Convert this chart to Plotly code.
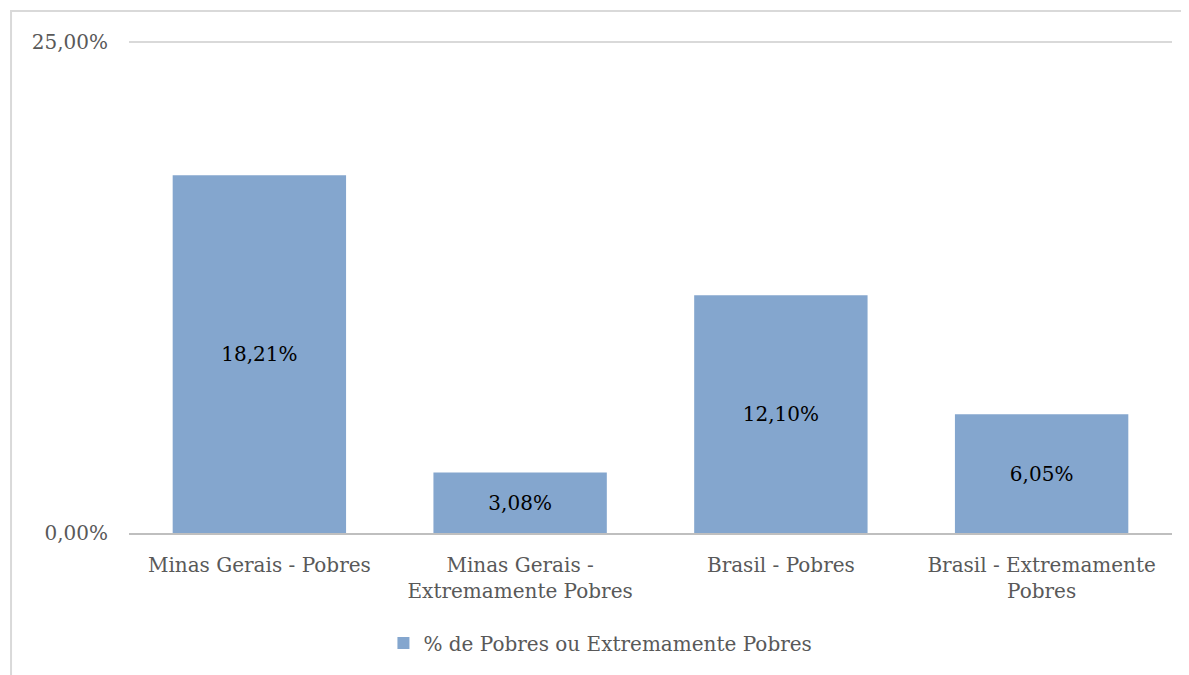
import plotly.graph_objects as go

categories = ["Minas Gerais - Pobres", "Minas Gerais -<br>Extremamente Pobres",
              "Brasil - Pobres", "Brasil - Extremamente<br>Pobres"]
values = [18.21, 3.08, 12.10, 6.05]
labels = ["18,21%", "3,08%", "12,10%", "6,05%"]
series_name = "% de Pobres ou Extremamente Pobres"
y_tickvals = [0, 25]
y_ticktext = ["0,00%", "25,00%"]

FONT = "DejaVu Serif"
GREY = "#595959"

fig = go.Figure()
fig.add_trace(go.Bar(
    x=categories, y=values, name=series_name,
    marker=dict(color="#84A6CE", line=dict(width=0)),
    text=labels, textposition="inside", insidetextanchor="middle",
    textfont=dict(family=FONT, size=20, color="#000000"),
    width=0.665, showlegend=True,
))

fig.update_layout(
    width=1181, height=667,
    margin=dict(l=121, r=17, t=30, b=140),
    paper_bgcolor="white", plot_bgcolor="white",
    font=dict(family=FONT, size=20, color=GREY),
    showlegend=True,
    legend=dict(orientation="h", x=0.452, xanchor="center", y=-0.183, yanchor="top",
                font=dict(family=FONT, size=20, color=GREY),
                itemsizing="constant"),
    shapes=[dict(type="rect", xref="paper", yref="paper",
                 x0=-0.1131, x1=1.0153, y0=-0.35, y1=1.0543,
                 line=dict(color="#D9D9D9", width=2), fillcolor="rgba(0,0,0,0)",
                 layer="below")],
)
fig.update_yaxes(range=[0, 25.2], tickvals=y_tickvals, ticktext=y_ticktext,
                 showgrid=True, gridcolor="#D9D9D9", gridwidth=2,
                 zeroline=False, showline=False, ticks="",
                 ticklabelstandoff=20,
                 tickfont=dict(family=FONT, size=20, color=GREY))
fig.update_xaxes(showline=True, linecolor="#BFBFBF", linewidth=2, ticks="",
                 showgrid=False, ticklabelstandoff=13,
                 tickfont=dict(family=FONT, size=20, color=GREY))

fig.write_html("out.html")
